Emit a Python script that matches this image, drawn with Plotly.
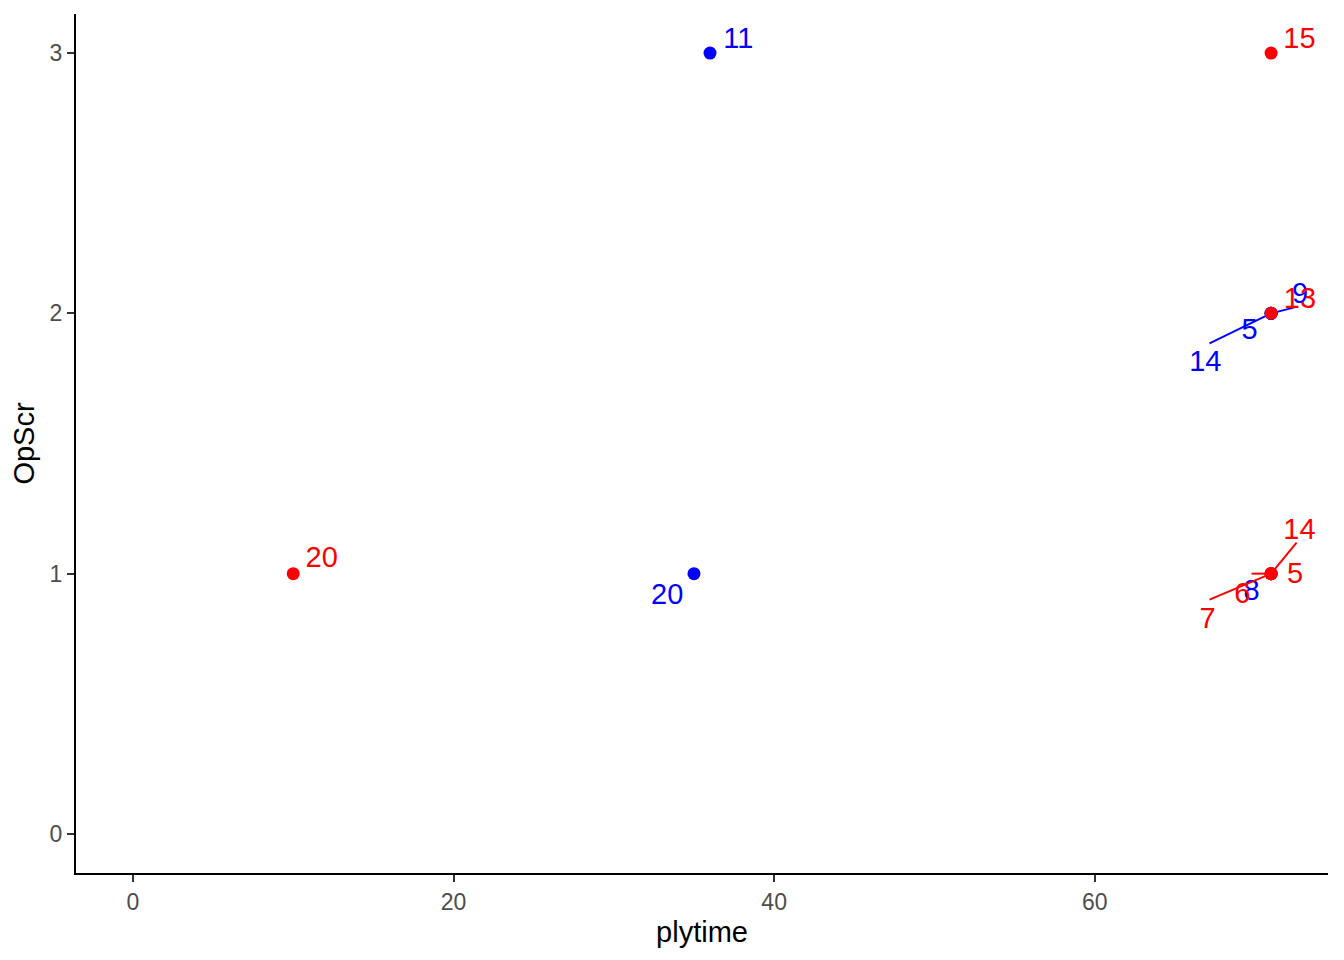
import plotly.graph_objects as go

# ---- data ----
blue_x = [36, 35, 71, 71, 71, 71]
blue_y = [3, 1, 2, 2, 2, 1]
blue_lab = ["11", "20", "5", "14", "9", "8"]
# repelled label positions (data units)
blue_lab_x = [37.76, 33.33, 69.66, 66.90, 72.80, 69.78]
blue_lab_y = [3.047, 0.912, 1.928, 1.805, 2.066, 0.928]
# segment end (None = no segment)
blue_seg_x = [None, None, None, 67.16, 72.46, None]
blue_seg_y = [None, None, None, 1.885, 2.023, None]

red_x = [71, 10, 71, 71, 71, 71, 71]
red_y = [3, 1, 2, 1, 1, 1, 1]
red_lab = ["15", "20", "13", "14", "5", "6", "7"]
red_lab_x = [72.77, 11.78, 72.80, 72.77, 72.50, 69.20, 67.04]
red_lab_y = [3.047, 1.054, 2.049, 1.162, 0.993, 0.916, 0.820]
red_seg_x = [None, None, None, 72.59, None, 69.78, 67.16]
red_seg_y = [None, None, None, 1.119, None, 1.0, 0.900]

x_ticks = [0, 20, 40, 60]
y_ticks = [0, 1, 2, 3]

BLUE = "#0000FF"
RED = "#FF0000"
FONT = "Liberation Sans, Arial"

fig = go.Figure()

def add_group(xs, ys, labs, lx, ly, sx, sy, color):
    for x0, y0, ex, ey in zip(xs, ys, sx, sy):
        if ex is not None:
            fig.add_trace(go.Scatter(x=[x0, ex], y=[y0, ey], mode="lines",
                                     line=dict(color=color, width=2),
                                     showlegend=False, hoverinfo="skip"))
    fig.add_trace(go.Scatter(x=xs, y=ys, mode="markers",
                             marker=dict(color=color, size=13),
                             showlegend=False))
    fig.add_trace(go.Scatter(x=lx, y=ly, mode="text", text=labs,
                             textposition="middle center",
                             textfont=dict(color=color, size=29, family=FONT),
                             showlegend=False, hoverinfo="skip"))

add_group(blue_x, blue_y, blue_lab, blue_lab_x, blue_lab_y, blue_seg_x, blue_seg_y, BLUE)
add_group(red_x, red_y, red_lab, red_lab_x, red_lab_y, red_seg_x, red_seg_y, RED)

axis_common = dict(showgrid=False, zeroline=False, showline=True,
                   linecolor="black", linewidth=2.2, ticks="outside",
                   tickcolor="#333333", ticklen=7, tickwidth=2,
                   tickfont=dict(size=23, color="#4d4d4d", family=FONT),
                   title_font=dict(size=29, color="black", family=FONT))

# page body has an 8px margin, so the figure is 8px smaller than the window
fig.update_layout(
    width=1336, height=952,
    plot_bgcolor="white", paper_bgcolor="white",
    margin=dict(l=68, r=16, t=6, b=87),
    xaxis=dict(range=[-3.55, 74.55], tickvals=x_ticks,
               title=dict(text="plytime", standoff=8), **axis_common),
    yaxis=dict(range=[-0.15, 3.15], tickvals=y_ticks,
               title=dict(text="OpScr", standoff=8), **axis_common),
)

fig.write_html("out.html")
